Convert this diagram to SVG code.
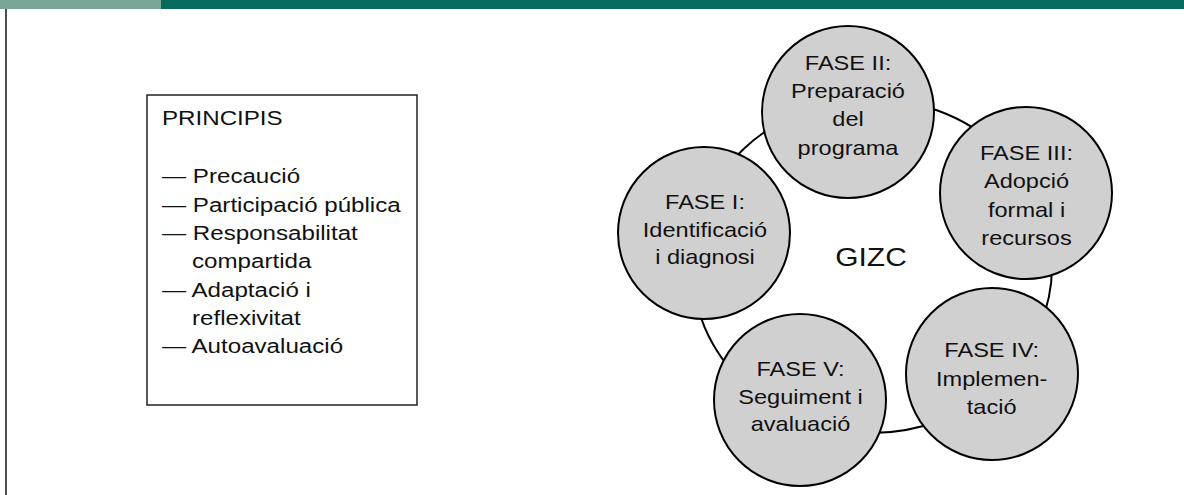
<svg xmlns="http://www.w3.org/2000/svg" width="1184" height="495" viewBox="0 0 1184 495">
<style>
.t{font-family:"Liberation Sans",Arial,sans-serif;fill:#111;}
.box{font-size:21px;}
.ph{font-size:20.5px;text-anchor:middle;}
.node circle{fill:#d0d0d0;stroke:#000;stroke-width:2;}
.ring{fill:none;stroke:#000;stroke-width:2;}
</style>
<rect x="0" y="0" width="1184" height="495" fill="#fff"/>
<rect x="0" y="0" width="161" height="9" fill="#7aa697"/>
<rect x="161" y="0" width="1023" height="9" fill="#066a5c"/>
<line x1="6" y1="9" x2="6" y2="495" stroke="#222" stroke-width="1.6"/>

<g id="principis">
<rect x="147" y="95" width="270" height="310" fill="#fff" stroke="#222" stroke-width="1.5"/>
<text class="t box" transform="translate(162,125) scale(1.15,1)">PRINCIPIS</text>
<text class="t box" transform="translate(162,183.3) scale(1.15,1)">— Precaució</text>
<text class="t box" transform="translate(162,211.7) scale(1.15,1)">— Participació pública</text>
<text class="t box" transform="translate(162,240) scale(1.15,1)">— Responsabilitat</text>
<text class="t box" transform="translate(192,268.3) scale(1.15,1)">compartida</text>
<text class="t box" transform="translate(162,296.7) scale(1.15,1)">— Adaptació i</text>
<text class="t box" transform="translate(192,325) scale(1.15,1)">reflexivitat</text>
<text class="t box" transform="translate(162,353.3) scale(1.15,1)">— Autoavaluació</text>
</g>

<g id="connectors">
<ellipse class="ring" cx="872" cy="266" rx="180" ry="167"/>
</g>

<g id="gizc">
<text class="t" font-size="26.5" text-anchor="middle" transform="translate(871,265.5) scale(1.13,1)">GIZC</text>
</g>

<g id="fase1" class="node">
<circle cx="704" cy="233" r="86"/>
<text class="t ph" transform="translate(705,209) scale(1.15,1)"><tspan x="0">FASE I:</tspan><tspan x="0" dy="27.7">Identificació</tspan><tspan x="0" dy="27.7">i diagnosi</tspan></text>
</g>

<g id="fase2" class="node">
<circle cx="848" cy="112" r="86"/>
<text class="t ph" transform="translate(848,70) scale(1.15,1)"><tspan x="0">FASE II:</tspan><tspan x="0" dy="28.2">Preparació</tspan><tspan x="0" dy="28.2">del</tspan><tspan x="0" dy="28.2">programa</tspan></text>
</g>

<g id="fase3" class="node">
<circle cx="1026" cy="193" r="86"/>
<text class="t ph" transform="translate(1026.5,160) scale(1.15,1)"><tspan x="0">FASE III:</tspan><tspan x="0" dy="28.3">Adopció</tspan><tspan x="0" dy="28.3">formal i</tspan><tspan x="0" dy="28.3">recursos</tspan></text>
</g>

<g id="fase4" class="node">
<circle cx="992" cy="374" r="86"/>
<text class="t ph" transform="translate(991.7,357) scale(1.15,1)"><tspan x="0">FASE IV:</tspan><tspan x="0" dy="29">Implemen-</tspan><tspan x="0" dy="28.3">tació</tspan></text>
</g>

<g id="fase5" class="node">
<circle cx="800" cy="400" r="86"/>
<text class="t ph" transform="translate(800.5,375.5) scale(1.15,1)"><tspan x="0">FASE V:</tspan><tspan x="0" dy="28.5">Seguiment i</tspan><tspan x="0" dy="27">avaluació</tspan></text>
</g>
</svg>
